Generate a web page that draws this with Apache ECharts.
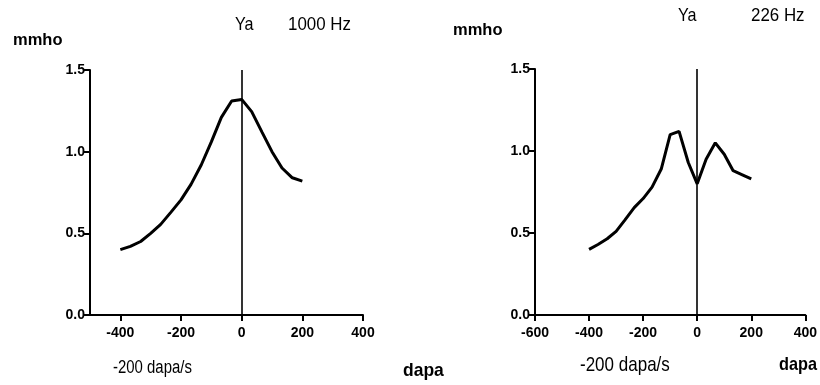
<!DOCTYPE html>
<html>
<head>
<meta charset="utf-8">
<script src="https://cdn.jsdelivr.net/npm/echarts@6/dist/echarts.min.js"></script>
<style>html,body{margin:0;padding:0;background:#fff}#c{width:820px;height:385px}</style>
</head>
<body>
<div id="c"></div>
<script>
// pressure points (dapa)
const pressure = [-400,-367,-333,-300,-267,-233,-200,-167,-133,-100,-67,-33,0,33,67,100,133,167,200];
// admittance Ya at 1000 Hz (mmho)
const ya1000 = [0.40,0.42,0.45,0.50,0.555,0.63,0.705,0.80,0.92,1.06,1.21,1.31,1.32,1.245,1.12,1.00,0.90,0.84,0.82];
// admittance Ya at 226 Hz (mmho)
const ya226 = [0.40,0.43,0.465,0.51,0.58,0.655,0.71,0.78,0.89,1.10,1.12,0.93,0.80,0.95,1.05,0.98,0.88,0.855,0.83];
// tick labels
const xTicksLeft = [-400,-200,0,200,400];
const xTicksRight = [-600,-400,-200,0,200,400];
const yTicks = [0,0.5,1.0,1.5];

const FONT = '"Liberation Sans", Arial, sans-serif';
const pairs = (xs, ys) => xs.map((x, i) => [x, ys[i]]);

function xAxisCfg(gridIndex, min, max, ticks) {
  return {
    type: 'value', gridIndex, min, max,
    axisLine: {show: true, onZero: false, lineStyle: {color: '#000', width: 2}},
    axisTick: {show: true, length: 6, lineStyle: {color: '#000', width: 2}, customValues: ticks},
    axisLabel: {customValues: ticks, color: '#000', fontFamily: FONT, fontWeight: 'bold', fontSize: 14, margin: 11},
    splitLine: {show: false}
  };
}
function yAxisCfg(gridIndex) {
  return {
    type: 'value', gridIndex, min: 0, max: 1.5,
    axisLine: {show: true, onZero: false, lineStyle: {color: '#000', width: 2}},
    axisTick: {show: true, length: 6, lineStyle: {color: '#000', width: 2}, customValues: yTicks},
    axisLabel: {customValues: yTicks, color: '#000', fontFamily: FONT, fontWeight: 'bold', fontSize: 14, margin: 5,
      formatter: v => v.toFixed(1)},
    splitLine: {show: false}
  };
}
function lineSeries(idx, ys) {
  return {
    type: 'line', xAxisIndex: idx, yAxisIndex: idx,
    data: pairs(pressure, ys), symbol: 'none', smooth: false,
    lineStyle: {color: '#000', width: 3}, silent: true,
    markLine: {silent: true, symbol: 'none', label: {show: false},
      lineStyle: {color: '#000', width: 1.6, type: 'solid'}, data: [{xAxis: 0}]}
  };
}
function txt(x, y, text, size, bold, sx) {
  return {type: 'text', x, y, scaleX: sx, silent: true,
    style: {text, fill: '#000', fontFamily: FONT, fontSize: size, fontWeight: bold ? 'bold' : 'normal',
      verticalAlign: 'middle', align: 'left'}};
}

const chart = echarts.init(document.getElementById('c'), null, {renderer: 'canvas'});
chart.setOption({
  animation: false,
  backgroundColor: '#fff',
  grid: [
    {left: 90, top: 70, width: 273, height: 245},
    {left: 535, top: 69, width: 273, height: 246}
  ],
  xAxis: [xAxisCfg(0, -500, 400, xTicksLeft), xAxisCfg(1, -600, 400, xTicksRight)],
  yAxis: [yAxisCfg(0), yAxisCfg(1)],
  series: [lineSeries(0, ya1000), lineSeries(1, ya226)],
  graphic: [
    txt(13, 40, 'mmho', 17, true, 0.97),
    txt(235, 25, 'Ya', 19, false, 0.85),
    txt(288, 25, '1000 Hz', 19, false, 0.89),
    txt(113, 368, '-200 dapa/s', 18, false, 0.83),
    txt(403, 371, 'dapa', 19, true, 0.92),
    txt(453, 30, 'mmho', 17, true, 0.97),
    txt(678, 16, 'Ya', 19, false, 0.85),
    txt(751, 16, '226 Hz', 19, false, 0.89),
    txt(580, 365, '-200 dapa/s', 21, false, 0.81),
    txt(779, 365, 'dapa', 18.5, true, 0.88)
  ]
});
</script>
</body>
</html>
